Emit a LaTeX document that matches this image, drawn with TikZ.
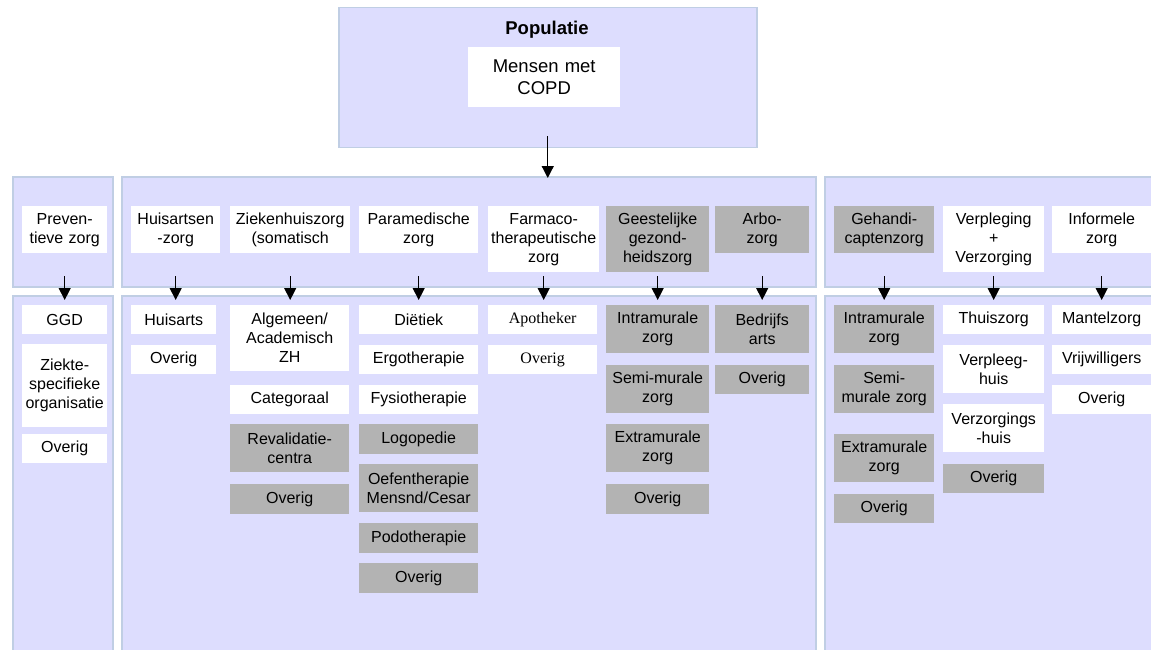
\documentclass[tikz,border=0pt]{standalone}
\usepackage{fontspec}
\setmainfont{Liberation Sans}
\newfontfamily\tijdfont{Liberation Serif}
\usetikzlibrary{arrows.meta}
\definecolor{paars}{RGB}{221,221,254}
\definecolor{rand}{RGB}{192,206,228}
\definecolor{grijsvak}{RGB}{179,179,179}
\tikzset{
  paneel/.style={draw=rand, fill=paars, line width=1.5pt, anchor=north west, inner sep=0pt},
  vak/.style 2 args={anchor=north west, inner sep=0pt, text width=#1pt, minimum height=#2pt,
    align=center, font=\fontsize{16}{19}\selectfont},
  wit/.style={fill=white},
  grijs/.style={fill=grijsvak},
  arr/.style={-{Triangle[width=12pt,length=12pt]}, line width=1.2pt}
}
\begin{document}
\begin{tikzpicture}[x=1pt, y=-1pt]
\clip (0,0) rectangle (1151,650);
% populatie
\node[paneel, minimum width=418pt, minimum height=140pt] (pop) at (338,7) {};
\node[font=\fontsize{18.5}{22}\selectfont\bfseries] (poptitel) at (547,30) {Populatie};
\node[vak={152}{60}, wit, font=\fontsize{18.5}{22}\selectfont] (copd) at (468,47) {Mensen met\\COPD};
% panelen
\node[paneel, minimum width=100pt, minimum height=110pt] (links2) at (12,176) {};
\node[paneel, minimum width=694pt, minimum height=110pt] (midden2) at (121,176) {};
\node[paneel, minimum width=360pt, minimum height=110pt] (rechts2) at (824,176) {};
\node[paneel, minimum width=100pt, minimum height=380pt] (links3) at (12,295) {};
\node[paneel, minimum width=694pt, minimum height=380pt] (midden3) at (121,295) {};
\node[paneel, minimum width=360pt, minimum height=380pt] (rechts3) at (824,295) {};
\draw[arr] ([yshift=12pt]pop.south) -- ([yshift=-2pt]pop.south |- midden2.north);
% soorten zorg
\node[vak={85}{47}, wit] (prev) at (22,206) {Preven-\\tieve zorg};
\node[vak={89}{47}, wit] (huis) at (131,206) {Huisartsen\\-zorg};
\node[vak={120}{47}, wit] (zkh) at (230,206) {Ziekenhuiszorg\\(somatisch};
\node[vak={119}{47}, wit] (para) at (359,206) {Paramedische\\zorg};
\node[vak={111}{66}, wit] (farm) at (488,206) {Farmaco-\\therapeutische\\zorg};
\node[vak={103}{66}, grijs] (ggz) at (606,206) {Geestelijke\\gezond-\\heidszorg};
\node[vak={94}{47}, grijs] (arbo) at (715,206) {Arbo-\\zorg};
\node[vak={100}{47}, grijs] (geh) at (834,206) {Gehandi-\\captenzorg};
\node[vak={101}{66}, wit] (verpl) at (943,206) {Verpleging\\+\\Verzorging};
\node[vak={99}{47}, wit] (inf) at (1052,206) {Informele\\zorg};
\coordinate (r2) at (0,276);
\coordinate (r3) at (0,300);
\foreach \n in {prev,huis,zkh,para,farm,ggz,arbo,geh,verpl,inf}
  \draw[arr] (\n |- r2) -- (\n |- r3);
% preventie
\node[vak={85}{29}, wit] (ggd) at (22,305) {GGD};
\node[vak={85}{83}, wit] (ziekte) at (22,344) {Ziekte-\\specifieke\\organisatie};
\node[vak={85}{29}, wit] (prevov) at (22,434) {Overig};
% huisarts
\node[vak={85}{29}, wit] (huisarts) at (131,305) {Huisarts};
\node[vak={85}{29}, wit] (huisov) at (131,345) {Overig};
% ziekenhuis
\node[vak={119}{66}, wit] (alg) at (230,305) {Algemeen/\\Academisch\\ZH};
\node[vak={119}{29}, wit] (cat) at (230,385) {Categoraal};
\node[vak={119}{48}, grijs] (reval) at (230,424) {Revalidatie-\\centra};
\node[vak={119}{30}, grijs] (zkhov) at (230,484) {Overig};
% paramedisch
\node[vak={119}{29}, wit] (diet) at (359,305) {Diëtiek};
\node[vak={119}{29}, wit] (ergo) at (359,345) {Ergotherapie};
\node[vak={119}{29}, wit] (fysio) at (359,385) {Fysiotherapie};
\node[vak={119}{30}, grijs] (logo) at (359,424) {Logopedie};
\node[vak={119}{48}, grijs] (oef) at (359,464) {Oefentherapie\\Mensnd/Cesar};
\node[vak={119}{30}, grijs] (podo) at (359,523) {Podotherapie};
\node[vak={119}{30}, grijs] (paraov) at (359,563) {Overig};
% farmaco
\node[vak={109}{29}, wit, font=\fontsize{16}{19}\selectfont\tijdfont] (apo) at (488,305) {Apotheker};
\node[vak={109}{29}, wit, font=\fontsize{16}{19}\selectfont\tijdfont] (farmov) at (488,345) {Overig};
% ggz
\node[vak={103}{48}, grijs] (ggzintra) at (606,305) {Intramurale\\zorg};
\node[vak={103}{48}, grijs] (ggzsemi) at (606,365) {Semi-murale\\zorg};
\node[vak={103}{48}, grijs] (ggzextra) at (606,424) {Extramurale\\zorg};
\node[vak={103}{30}, grijs] (ggzov) at (606,484) {Overig};
% arbo
\node[vak={94}{48}, grijs] (bedr) at (715,305) {Bedrijfs\\arts};
\node[vak={94}{29}, grijs] (arboov) at (715,365) {Overig};
% gehandicapten
\node[vak={100}{48}, grijs] (gehintra) at (834,305) {Intramurale\\zorg};
\node[vak={100}{48}, grijs] (gehsemi) at (834,365) {Semi-\\murale zorg};
\node[vak={100}{48}, grijs] (gehextra) at (834,434) {Extramurale\\zorg};
\node[vak={100}{29}, grijs] (gehov) at (834,494) {Overig};
% verpleging
\node[vak={101}{29}, wit] (thuis) at (943,305) {Thuiszorg};
\node[vak={101}{48}, wit] (vphuis) at (943,345) {Verpleeg-\\huis};
\node[vak={101}{48}, wit] (vzhuis) at (943,404) {Verzorgings\\-huis};
\node[vak={101}{29}, grijs] (verplov) at (943,464) {Overig};
% informeel
\node[vak={99}{29}, wit] (mantel) at (1052,305) {Mantelzorg};
\node[vak={99}{29}, wit] (vrijw) at (1052,345) {Vrijwilligers};
\node[vak={99}{29}, wit] (infov) at (1052,385) {Overig};
\end{tikzpicture}
\end{document}
